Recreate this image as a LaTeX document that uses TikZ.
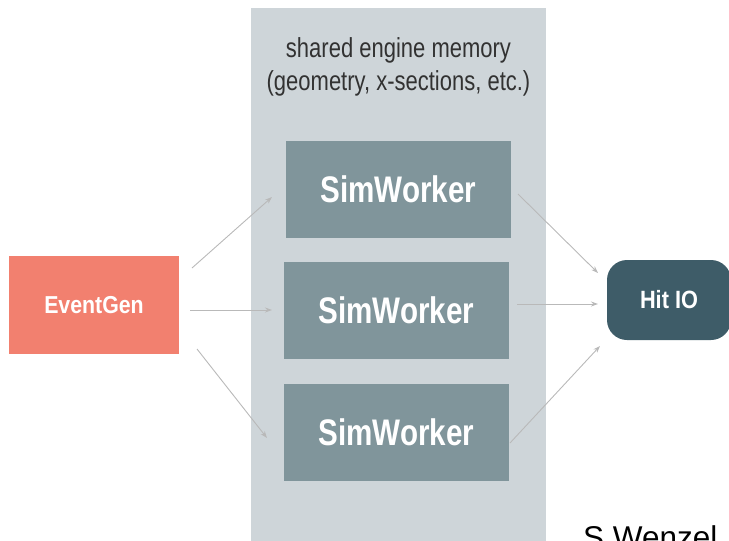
\documentclass[tikz,border=0pt]{standalone}
\usepackage{fontspec}
\setmainfont{Liberation Sans}
\newfontfamily\condfont[FakeStretch=0.80]{Liberation Sans}
\newfontfamily\semifont[FakeStretch=0.87]{Liberation Sans}
\usetikzlibrary{arrows.meta}
\definecolor{panelgray}{RGB}{206,213,217}
\definecolor{workergray}{RGB}{128,149,155}
\definecolor{salmon}{RGB}{242,128,111}
\definecolor{hitblue}{RGB}{62,92,104}
\definecolor{arrowgray}{RGB}{185,185,185}
\definecolor{textdark}{RGB}{50,50,50}
\tikzset{
  worker/.style={fill=workergray, draw=none, minimum width=225pt, minimum height=97pt, inner sep=0pt,
    text=white, font=\condfont\bfseries\fontsize{37}{40}\selectfont},
  flow/.style={draw=arrowgray, line width=0.9pt, -{Stealth[length=7pt,width=5pt]}},
}
\begin{document}
\begin{tikzpicture}[x=1pt,y=-1pt]
\useasboundingbox (0,0) rectangle (729,541);
\node[fill=panelgray, minimum width=295pt, minimum height=545pt, inner sep=0pt] (panel) at (398.5,280.5) {};
\node[text=textdark, font=\condfont\fontsize{27.5}{33}\selectfont, align=center, anchor=base] (label) at (398.5,90)
  {shared engine memory\\(geometry, x-sections, etc.)};
\node[worker] (w1) at (398.5,189.5) {SimWorker};
\node[worker] (w2) at (396.5,310.5) {SimWorker};
\node[worker] (w3) at (396.5,432) {SimWorker};
\node[fill=salmon, minimum width=170pt, minimum height=98pt, inner sep=0pt, text=white,
  font=\semifont\bfseries\fontsize{24.5}{28}\selectfont] (eg) at (94,305) {EventGen};
\node[fill=hitblue, rounded corners=20pt, minimum width=124pt, minimum height=80pt, inner sep=0pt, text=white,
  font=\semifont\bfseries\fontsize{25}{28}\selectfont] (hit) at (669,300) {Hit IO};
\node[anchor=base west, text=black, font=\fontsize{31.5}{34}\selectfont, inner sep=0pt] (author) at (583,548) {S Wenzel};
% arrow end points
\coordinate (a1s) at (192,268); \coordinate (a1e) at (272,197);
\coordinate (a2s) at (190,310); \coordinate (a2e) at (272,310);
\coordinate (a3s) at (197,349); \coordinate (a3e) at (267,438);
\coordinate (b1s) at (518,194); \coordinate (b1e) at (598,273);
\coordinate (b2s) at (517,304); \coordinate (b2e) at (598,304);
\coordinate (b3s) at (510,443); \coordinate (b3e) at (600,346);
\draw[flow] (a1s) -- (a1e);
\draw[flow] (a2s) -- (a2e);
\draw[flow] (a3s) -- (a3e);
\draw[flow] (b1s) -- (b1e);
\draw[flow] (b2s) -- (b2e);
\draw[flow] (b3s) -- (b3e);
\end{tikzpicture}
\end{document}
